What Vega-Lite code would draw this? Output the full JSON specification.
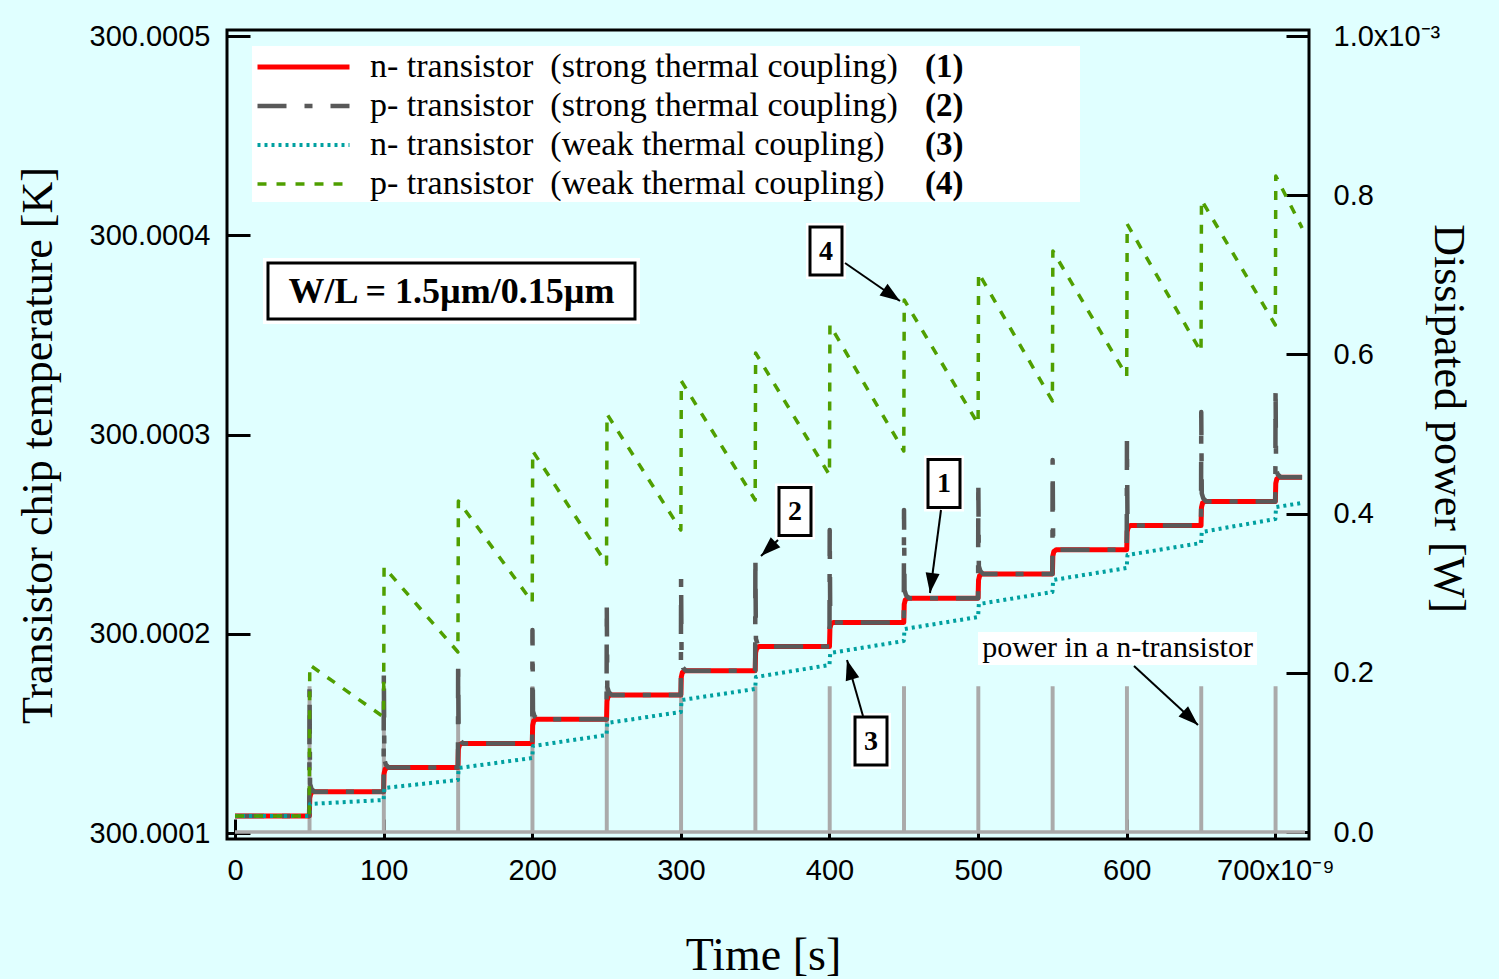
{
  "$schema": "https://vega.github.io/schema/vega-lite/v6.json",
  "width": 1082,
  "height": 809,
  "autosize": {"type": "none"},
  "padding": {"left": 227, "top": 30, "right": 190, "bottom": 140},
  "background": "#e0ffff",
  "config": {
    "view": {"stroke": "black", "strokeWidth": 3},
    "axis": {"domain": false, "grid": false, "labelFont": "Liberation Sans", "labelFontSize": 29, "labelColor": "black", "tickColor": "black", "tickWidth": 3, "titleFont": "Liberation Serif", "titleFontSize": 44, "titleFontWeight": "normal", "titleColor": "black", "labelFlush": false, "labelOverlap": false, "labelBound": false}
  },
  "datasets": {
    "power": [
      {"t":0,"P":0},
      {"t":50,"P":0},{"t":50,"P":0.181},{"t":50.3,"P":0.181},{"t":50.3,"P":0},
      {"t":100,"P":0},{"t":100,"P":0.181},{"t":100.3,"P":0.181},{"t":100.3,"P":0},
      {"t":150,"P":0},{"t":150,"P":0.181},{"t":150.3,"P":0.181},{"t":150.3,"P":0},
      {"t":200,"P":0},{"t":200,"P":0.181},{"t":200.3,"P":0.181},{"t":200.3,"P":0},
      {"t":250,"P":0},{"t":250,"P":0.181},{"t":250.3,"P":0.181},{"t":250.3,"P":0},
      {"t":300,"P":0},{"t":300,"P":0.181},{"t":300.3,"P":0.181},{"t":300.3,"P":0},
      {"t":350,"P":0},{"t":350,"P":0.181},{"t":350.3,"P":0.181},{"t":350.3,"P":0},
      {"t":400,"P":0},{"t":400,"P":0.181},{"t":400.3,"P":0.181},{"t":400.3,"P":0},
      {"t":450,"P":0},{"t":450,"P":0.181},{"t":450.3,"P":0.181},{"t":450.3,"P":0},
      {"t":500,"P":0},{"t":500,"P":0.181},{"t":500.3,"P":0.181},{"t":500.3,"P":0},
      {"t":550,"P":0},{"t":550,"P":0.181},{"t":550.3,"P":0.181},{"t":550.3,"P":0},
      {"t":600,"P":0},{"t":600,"P":0.181},{"t":600.3,"P":0.181},{"t":600.3,"P":0},
      {"t":650,"P":0},{"t":650,"P":0.181},{"t":650.3,"P":0.181},{"t":650.3,"P":0},
      {"t":700,"P":0},{"t":700,"P":0.181},{"t":700.3,"P":0.181},{"t":700.3,"P":0},
      {"t":720,"P":0}
    ],
    "temps": [
      {"s":"n-strong","t":0,"T":300.00010868},
      {"s":"n-strong","t":50,"T":300.00010868},{"s":"n-strong","t":50.3,"T":300.00011779},{"s":"n-strong","t":51,"T":300.00011997},{"s":"n-strong","t":52.5,"T":300.00012082},
      {"s":"n-strong","t":100,"T":300.00012082},{"s":"n-strong","t":100.3,"T":300.00012993},{"s":"n-strong","t":101,"T":300.00013211},{"s":"n-strong","t":102.5,"T":300.00013297},
      {"s":"n-strong","t":150,"T":300.00013297},{"s":"n-strong","t":150.3,"T":300.00014208},{"s":"n-strong","t":151,"T":300.00014426},{"s":"n-strong","t":152.5,"T":300.00014511},
      {"s":"n-strong","t":200,"T":300.00014511},{"s":"n-strong","t":200.3,"T":300.00015422},{"s":"n-strong","t":201,"T":300.0001564},{"s":"n-strong","t":202.5,"T":300.00015725},
      {"s":"n-strong","t":250,"T":300.00015725},{"s":"n-strong","t":250.3,"T":300.00016636},{"s":"n-strong","t":251,"T":300.00016854},{"s":"n-strong","t":252.5,"T":300.00016939},
      {"s":"n-strong","t":300,"T":300.00016939},{"s":"n-strong","t":300.3,"T":300.0001785},{"s":"n-strong","t":301,"T":300.00018068},{"s":"n-strong","t":302.5,"T":300.00018154},
      {"s":"n-strong","t":350,"T":300.00018154},{"s":"n-strong","t":350.3,"T":300.00019065},{"s":"n-strong","t":351,"T":300.00019283},{"s":"n-strong","t":352.5,"T":300.00019368},
      {"s":"n-strong","t":400,"T":300.00019368},{"s":"n-strong","t":400.3,"T":300.00020279},{"s":"n-strong","t":401,"T":300.00020497},{"s":"n-strong","t":402.5,"T":300.00020582},
      {"s":"n-strong","t":450,"T":300.00020582},{"s":"n-strong","t":450.3,"T":300.00021493},{"s":"n-strong","t":451,"T":300.00021711},{"s":"n-strong","t":452.5,"T":300.00021796},
      {"s":"n-strong","t":500,"T":300.00021796},{"s":"n-strong","t":500.3,"T":300.00022707},{"s":"n-strong","t":501,"T":300.00022925},{"s":"n-strong","t":502.5,"T":300.00023011},
      {"s":"n-strong","t":550,"T":300.00023011},{"s":"n-strong","t":550.3,"T":300.00023922},{"s":"n-strong","t":551,"T":300.0002414},{"s":"n-strong","t":552.5,"T":300.00024225},
      {"s":"n-strong","t":600,"T":300.00024225},{"s":"n-strong","t":600.3,"T":300.00025136},{"s":"n-strong","t":601,"T":300.00025354},{"s":"n-strong","t":602.5,"T":300.00025439},
      {"s":"n-strong","t":650,"T":300.00025439},{"s":"n-strong","t":650.3,"T":300.0002635},{"s":"n-strong","t":651,"T":300.00026568},{"s":"n-strong","t":652.5,"T":300.00026653},
      {"s":"n-strong","t":700,"T":300.00026653},{"s":"n-strong","t":700.3,"T":300.00027564},{"s":"n-strong","t":701,"T":300.00027782},{"s":"n-strong","t":702.5,"T":300.00027868},
      {"s":"n-strong","t":718,"T":300.00027868},

      {"s":"p-strong","t":0,"T":300.00010868},
      {"s":"p-strong","t":50,"T":300.00010868},{"s":"p-strong","t":50.15,"T":300.00017291},{"s":"p-strong","t":50.5,"T":300.00012482},{"s":"p-strong","t":51.5,"T":300.00012232},{"s":"p-strong","t":53.5,"T":300.00012082},
      {"s":"p-strong","t":100,"T":300.00012082},{"s":"p-strong","t":100.15,"T":300.00018043},{"s":"p-strong","t":100.5,"T":300.00013697},{"s":"p-strong","t":101.5,"T":300.00013447},{"s":"p-strong","t":103.5,"T":300.00013297},
      {"s":"p-strong","t":150,"T":300.00013297},{"s":"p-strong","t":150.15,"T":300.00018695},{"s":"p-strong","t":150.5,"T":300.00014911},{"s":"p-strong","t":151.5,"T":300.00014661},{"s":"p-strong","t":153.5,"T":300.00014511},
      {"s":"p-strong","t":200,"T":300.00014511},{"s":"p-strong","t":200.15,"T":300.00020201},{"s":"p-strong","t":200.5,"T":300.00016125},{"s":"p-strong","t":201.5,"T":300.00015875},{"s":"p-strong","t":203.5,"T":300.00015725},
      {"s":"p-strong","t":250,"T":300.00015725},{"s":"p-strong","t":250.15,"T":300.00021505},{"s":"p-strong","t":250.5,"T":300.00017339},{"s":"p-strong","t":251.5,"T":300.00017089},{"s":"p-strong","t":253.5,"T":300.00016939},
      {"s":"p-strong","t":300,"T":300.00016939},{"s":"p-strong","t":300.15,"T":300.0002281},{"s":"p-strong","t":300.5,"T":300.00018554},{"s":"p-strong","t":301.5,"T":300.00018304},{"s":"p-strong","t":303.5,"T":300.00018154},
      {"s":"p-strong","t":350,"T":300.00018154},{"s":"p-strong","t":350.15,"T":300.00023864},{"s":"p-strong","t":350.5,"T":300.00019768},{"s":"p-strong","t":351.5,"T":300.00019518},{"s":"p-strong","t":353.5,"T":300.00019368},
      {"s":"p-strong","t":400,"T":300.00019368},{"s":"p-strong","t":400.15,"T":300.00025218},{"s":"p-strong","t":400.5,"T":300.00020982},{"s":"p-strong","t":401.5,"T":300.00020732},{"s":"p-strong","t":403.5,"T":300.00020582},
      {"s":"p-strong","t":450,"T":300.00020582},{"s":"p-strong","t":450.15,"T":300.00026222},{"s":"p-strong","t":450.5,"T":300.00022196},{"s":"p-strong","t":451.5,"T":300.00021946},{"s":"p-strong","t":453.5,"T":300.00021796},
      {"s":"p-strong","t":500,"T":300.00021796},{"s":"p-strong","t":500.15,"T":300.00027677},{"s":"p-strong","t":500.5,"T":300.00023411},{"s":"p-strong","t":501.5,"T":300.00023161},{"s":"p-strong","t":503.5,"T":300.00023011},
      {"s":"p-strong","t":550,"T":300.00023011},{"s":"p-strong","t":550.15,"T":300.00028731},{"s":"p-strong","t":550.5,"T":300.00024625},{"s":"p-strong","t":551.5,"T":300.00024375},{"s":"p-strong","t":553.5,"T":300.00024225},
      {"s":"p-strong","t":600,"T":300.00024225},{"s":"p-strong","t":600.15,"T":300.00029684},{"s":"p-strong","t":600.5,"T":300.00025839},{"s":"p-strong","t":601.5,"T":300.00025589},{"s":"p-strong","t":603.5,"T":300.00025439},
      {"s":"p-strong","t":650,"T":300.00025439},{"s":"p-strong","t":650.15,"T":300.00031139},{"s":"p-strong","t":650.5,"T":300.00027053},{"s":"p-strong","t":651.5,"T":300.00026803},{"s":"p-strong","t":653.5,"T":300.00026653},
      {"s":"p-strong","t":700,"T":300.00026653},{"s":"p-strong","t":700.15,"T":300.00032394},{"s":"p-strong","t":700.5,"T":300.00028268},{"s":"p-strong","t":701.5,"T":300.00028018},{"s":"p-strong","t":703.5,"T":300.00027868},
      {"s":"p-strong","t":718,"T":300.00027868},

      {"s":"n-weak","t":0,"T":300.00010868},{"s":"n-weak","t":50,"T":300.00010868},{"s":"n-weak","t":50.5,"T":300.0001147},
      {"s":"n-weak","t":100,"T":300.00011671},{"s":"n-weak","t":100.5,"T":300.00012273},
      {"s":"n-weak","t":150,"T":300.00012674},{"s":"n-weak","t":150.5,"T":300.00013276},
      {"s":"n-weak","t":200,"T":300.00013778},{"s":"n-weak","t":200.5,"T":300.0001438},
      {"s":"n-weak","t":250,"T":300.00014932},{"s":"n-weak","t":250.5,"T":300.00015534},
      {"s":"n-weak","t":300,"T":300.00016086},{"s":"n-weak","t":300.5,"T":300.00016688},
      {"s":"n-weak","t":350,"T":300.0001724},{"s":"n-weak","t":350.5,"T":300.00017843},
      {"s":"n-weak","t":400,"T":300.00018445},{"s":"n-weak","t":400.5,"T":300.00019047},
      {"s":"n-weak","t":450,"T":300.00019649},{"s":"n-weak","t":450.5,"T":300.00020251},
      {"s":"n-weak","t":500,"T":300.00020853},{"s":"n-weak","t":500.5,"T":300.00021505},
      {"s":"n-weak","t":550,"T":300.00022107},{"s":"n-weak","t":550.5,"T":300.0002271},
      {"s":"n-weak","t":600,"T":300.00023312},{"s":"n-weak","t":600.5,"T":300.00023964},
      {"s":"n-weak","t":650,"T":300.00024566},{"s":"n-weak","t":650.5,"T":300.00025118},
      {"s":"n-weak","t":700,"T":300.0002577},{"s":"n-weak","t":700.5,"T":300.00026372},
      {"s":"n-weak","t":718,"T":300.00026573},

      {"s":"p-weak","t":0,"T":300.00010868},{"s":"p-weak","t":50,"T":300.00010868},{"s":"p-weak","t":50.3,"T":300.00018445},
      {"s":"p-weak","t":100,"T":300.00015835},{"s":"p-weak","t":100.3,"T":300.00023362},
      {"s":"p-weak","t":150,"T":300.00019097},{"s":"p-weak","t":150.3,"T":300.00026673},
      {"s":"p-weak","t":200,"T":300.00021606},{"s":"p-weak","t":200.3,"T":300.00029182},
      {"s":"p-weak","t":250,"T":300.00023512},{"s":"p-weak","t":250.3,"T":300.00031039},
      {"s":"p-weak","t":300,"T":300.00025218},{"s":"p-weak","t":300.3,"T":300.00032695},
      {"s":"p-weak","t":350,"T":300.00026724},{"s":"p-weak","t":350.3,"T":300.00034099},
      {"s":"p-weak","t":400,"T":300.00027978},{"s":"p-weak","t":400.3,"T":300.00035504},
      {"s":"p-weak","t":450,"T":300.00029182},{"s":"p-weak","t":450.3,"T":300.00036759},
      {"s":"p-weak","t":500,"T":300.00030537},{"s":"p-weak","t":500.3,"T":300.00038114},
      {"s":"p-weak","t":550,"T":300.00031691},{"s":"p-weak","t":550.3,"T":300.00039217},
      {"s":"p-weak","t":600,"T":300.00032945},{"s":"p-weak","t":600.3,"T":300.00040572},
      {"s":"p-weak","t":650,"T":300.0003415},{"s":"p-weak","t":650.3,"T":300.00041776},
      {"s":"p-weak","t":700,"T":300.00035504},{"s":"p-weak","t":700.3,"T":300.00042981},
      {"s":"p-weak","t":718,"T":300.00040372}
    ],
    "notes": [
      {"kind":"legendbg","label":"","t":290,"T":300.0004559},
      {"kind":"wl","label":"W/L = 1.5µm/0.15µm","t":145.67,"T":300.0003721},
      {"kind":"note","label":"power in a n-transistor","t":593.8,"T":300.00019273},
      {"kind":"box","label":"4","t":397.66,"T":300.00039217},
      {"kind":"box","label":"2","t":376.8,"T":300.00026147},
      {"kind":"box","label":"1","t":477.06,"T":300.00027552},
      {"kind":"box","label":"3","t":427.94,"T":300.00014631},
      {"kind":"tag","label":"(1)","t":464.27,"T":300.0004845},
      {"kind":"tag","label":"(2)","t":464.27,"T":300.00046493},
      {"kind":"tag","label":"(3)","t":464.27,"T":300.00044536},
      {"kind":"tag","label":"(4)","t":464.27,"T":300.00042579}
    ],
    "arrows": [
      {"t":410.44,"T":300.00038615,"t2":447.45,"T2":300.00036709,"angle":124.6},
      {"t":365.36,"T":300.00024717,"t2":353.92,"T2":300.00023914,"angle":226.7},
      {"t":475.04,"T":300.00026222,"t2":467.63,"T2":300.00022057,"angle":187.5},
      {"t":422.55,"T":300.00015886,"t2":411.79,"T2":300.00018695,"angle":344.1},
      {"t":604.9,"T":300.00018394,"t2":647.96,"T2":300.00015434,"angle":132.7}
    ]
  },
  "layer": [
    {
      "data": {"name": "power"},
      "mark": {"type": "line", "color": "#aaaaaa", "strokeWidth": 3.5, "strokeJoin": "miter"},
      "encoding": {
        "x": {"field": "t", "type": "quantitative", "scale": {"domain": [-5.38, 722.65], "nice": false, "zero": false},
              "axis": {"values": [0,100,200,300,400,500,600,700], "labelExpr": "datum.value == 700 ? '700x10⁻⁹' : datum.label", "tickSize": -20, "labelPadding": 37, "title": "Time [s]", "titleFontSize": 46, "titleX": 536, "titleY": 116, "titleAlign": "center", "titleBaseline": "middle"}},
        "y": {"field": "P", "type": "quantitative", "scale": {"domain": [-0.00879, 1.00754], "nice": false, "zero": false},
              "axis": {"orient": "right", "values": [0,0.2,0.4,0.6,0.8,1], "labelExpr": "datum.value == 1 ? '1.0x10⁻³' : format(datum.value, '.1f')", "tickSize": -23, "labelPadding": 47, "title": "Dissipated power [W]", "titleAngle": 90, "titleX": 138, "titleY": 388, "titleAlign": "center", "titleBaseline": "middle"}},
        "order": {"value": null}
      }
    },
    {
      "encoding": {
        "x": {"field": "t", "type": "quantitative", "scale": {"domain": [-5.38, 722.65], "nice": false, "zero": false},
              "axis": {"values": [0,100,200,300,400,500,600,700], "labelExpr": "datum.value == 700 ? '700x10⁻⁹' : datum.label", "tickSize": -20, "labelPadding": 37, "title": "Time [s]", "titleFontSize": 46, "titleX": 536, "titleY": 116, "titleAlign": "center", "titleBaseline": "middle"}},
        "y": {"field": "T", "type": "quantitative", "scale": {"domain": [300.00009714, 300.00050306], "nice": false, "zero": false},
              "axis": {"values": [300.0001,300.0002,300.0003,300.0004,300.0005], "format": ".4f", "tickSize": -23, "labelPadding": 40, "title": "Transistor chip temperature [K]", "titleAngle": -90, "titleX": -189, "titleY": 415, "titleAlign": "center", "titleBaseline": "middle"}}
      },
      "layer": [
        {
          "data": {"name": "notes"},
          "transform": [{"filter": "datum.kind == 'legendbg'"}],
          "mark": {"type": "point", "shape": "M-1,-0.1884H1V0.1884H-1Z", "size": 685584, "filled": true, "fill": "white", "strokeWidth": 0, "opacity": 1}
        },
        {
          "data": {"name": "temps"},
          "mark": {"type": "line", "strokeJoin": "round", "strokeCap": "butt"},
          "encoding": {
            "color": {"field": "s", "type": "nominal",
              "scale": {"domain": ["n-strong","p-strong","n-weak","p-weak"], "range": ["#ff0000","#595959","#00a0a0","#4f9f00"]},
              "legend": {"orient": "none", "legendX": 28, "legendY": 17.5, "title": null, "padding": 0, "rowPadding": 0, "clipHeight": 39, "symbolType": "stroke", "symbolSize": 8464, "labelOffset": 18, "labelLimit": 0, "labelFont": "Liberation Serif", "labelFontSize": 34, "labelColor": "black",
                "labelExpr": "datum.value == 'n-strong' ? 'n- transistor\u00a0 (strong thermal coupling)' : datum.value == 'p-strong' ? 'p- transistor\u00a0 (strong thermal coupling)' : datum.value == 'n-weak' ? 'n- transistor\u00a0 (weak thermal coupling)' : 'p- transistor\u00a0 (weak thermal coupling)'"}},
            "strokeDash": {"field": "s", "type": "nominal",
              "scale": {"domain": ["n-strong","p-strong","n-weak","p-weak"], "range": [[1,0],[29,18,8,18],[3,4],[9,10]]}},
            "strokeWidth": {"field": "s", "type": "nominal",
              "scale": {"domain": ["n-strong","p-strong","n-weak","p-weak"], "range": [5,3.5,3,3]}},
            "order": {"value": null}
          }
        },
        {
          "data": {"name": "notes"},
          "transform": [{"filter": "datum.kind == 'note'"}],
          "mark": {"type": "point", "shape": "M-1,-0.1183H1V0.1183H-1Z", "size": 77841, "filled": true, "fill": "white", "strokeWidth": 0, "opacity": 1}
        },
        {
          "data": {"name": "notes"},
          "transform": [{"filter": "datum.kind == 'wl'"}],
          "mark": {"type": "point", "shape": "M-1,-0.1751H1V0.1751H-1Z", "size": 142129, "filled": true, "fill": "white", "strokeWidth": 0, "opacity": 1}
        },
        {
          "data": {"name": "notes"},
          "transform": [{"filter": "datum.kind == 'wl'"}],
          "mark": {"type": "point", "shape": "M-1,-0.1526H1V0.1526H-1Z", "size": 134689, "filled": true, "fill": "white", "stroke": "black", "strokeWidth": 3, "opacity": 1}
        },
        {
          "data": {"name": "notes"},
          "transform": [{"filter": "datum.kind == 'box'"}],
          "mark": {"type": "point", "shape": "M-0.7143,-1H0.7143V1H-0.7143Z", "size": 3136, "filled": true, "fill": "white", "strokeWidth": 0, "opacity": 1}
        },
        {
          "data": {"name": "notes"},
          "transform": [{"filter": "datum.kind == 'box'"}],
          "mark": {"type": "point", "shape": "M-0.6667,-1H0.6667V1H-0.6667Z", "size": 2304, "filled": true, "fill": "white", "stroke": "black", "strokeWidth": 3, "opacity": 1}
        },
        {
          "data": {"name": "arrows"},
          "mark": {"type": "rule", "color": "black", "strokeWidth": 2},
          "encoding": {
            "x2": {"field": "t2"},
            "y2": {"field": "T2"}
          }
        },
        {
          "data": {"name": "arrows"},
          "mark": {"type": "point", "shape": "M0,0L-0.35,1L0.35,1Z", "size": 1600, "filled": true, "color": "black", "opacity": 1},
          "encoding": {
            "x": {"field": "t2", "type": "quantitative"},
            "y": {"field": "T2", "type": "quantitative"},
            "angle": {"field": "angle", "type": "quantitative", "scale": null}
          }
        },
        {
          "data": {"name": "notes"},
          "transform": [{"filter": "datum.kind == 'box'"}],
          "mark": {"type": "text", "font": "Liberation Serif", "fontSize": 28, "fontWeight": "bold", "color": "black", "align": "center", "baseline": "middle", "dy": 1},
          "encoding": {"text": {"field": "label"}}
        },
        {
          "data": {"name": "notes"},
          "transform": [{"filter": "datum.kind == 'wl'"}],
          "mark": {"type": "text", "font": "Liberation Serif", "fontSize": 36, "fontWeight": "bold", "color": "black", "align": "center", "baseline": "middle", "dy": 1},
          "encoding": {"text": {"field": "label"}}
        },
        {
          "data": {"name": "notes"},
          "transform": [{"filter": "datum.kind == 'note'"}],
          "mark": {"type": "text", "font": "Liberation Serif", "fontSize": 30, "color": "black", "align": "center", "baseline": "middle"},
          "encoding": {"text": {"field": "label"}}
        },
        {
          "data": {"name": "notes"},
          "transform": [{"filter": "datum.kind == 'tag'"}],
          "mark": {"type": "text", "font": "Liberation Serif", "fontSize": 33, "fontWeight": "bold", "color": "black", "align": "left", "baseline": "middle"},
          "encoding": {"text": {"field": "label"}}
        }
      ]
    }
  ],
  "resolve": {"scale": {"y": "independent"}}
}
